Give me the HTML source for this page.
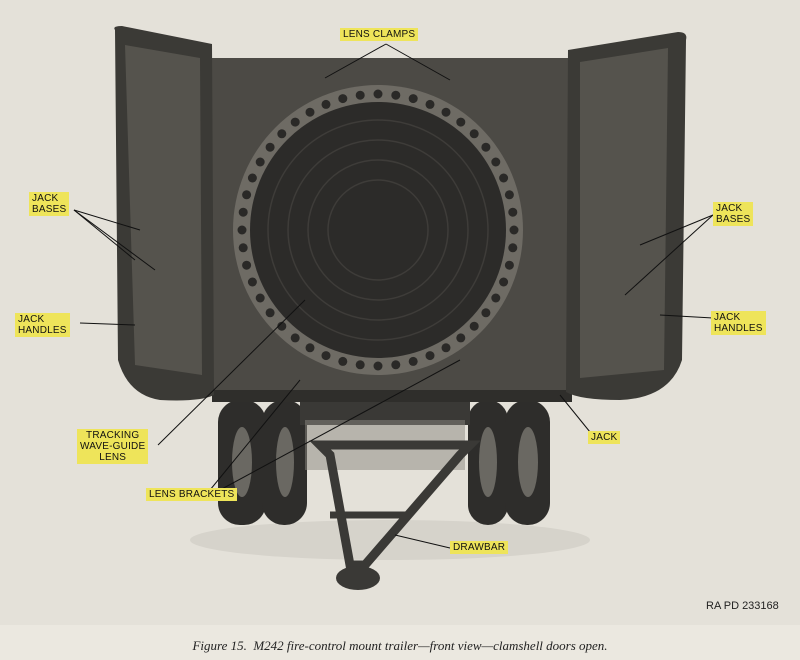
<!DOCTYPE html>
<html><head><meta charset="utf-8"><style>
html,body{margin:0;padding:0;background:#ebe8e0;}
body{width:800px;height:660px;overflow:hidden;position:relative;}
svg{position:absolute;left:0;top:0;}
.lab{position:absolute;background:#eee45a;font-family:"Liberation Sans",sans-serif;font-size:10px;line-height:11px;color:#111;padding:1px 3px;letter-spacing:0.2px;}
.cap{position:absolute;left:0;width:800px;top:638px;text-align:center;font-family:"Liberation Serif",serif;font-style:italic;font-size:13px;color:#222;}
.ra{position:absolute;left:706px;top:600px;font-family:"Liberation Sans",sans-serif;font-size:11px;color:#222;}
</style></head><body>
<svg width="800" height="660" viewBox="0 0 800 660">
<rect x="0" y="0" width="800" height="625" fill="#e4e1d9"/>
<!-- ground shadow -->
<ellipse cx="390" cy="540" rx="200" ry="20" fill="#d6d3cb"/>
<!-- wheels back -->
<g fill="#2e2d2b">
<rect x="218" y="400" width="48" height="125" rx="22"/>
<rect x="262" y="400" width="45" height="125" rx="22"/>
<rect x="468" y="400" width="40" height="125" rx="20"/>
<rect x="505" y="400" width="45" height="125" rx="22"/>
</g>
<g fill="#6a6862">
<ellipse cx="242" cy="462" rx="10" ry="35"/><ellipse cx="285" cy="462" rx="9" ry="35"/>
<ellipse cx="488" cy="462" rx="9" ry="35"/><ellipse cx="528" cy="462" rx="10" ry="35"/>
</g>
<!-- axle/chassis -->
<rect x="300" y="395" width="170" height="30" fill="#3a3936"/>
<rect x="305" y="420" width="160" height="50" fill="#8a8780" opacity="0.5"/>
<!-- drawbar -->
<path d="M320 445 L470 445 L460 455 L365 565 L350 565 L330 455 Z" fill="none" stroke="#3a3936" stroke-width="9"/>
<line x1="330" y1="515" x2="410" y2="515" stroke="#3a3936" stroke-width="7"/>
<ellipse cx="358" cy="578" rx="22" ry="12" fill="#3a3936"/>
<!-- body -->
<rect x="212" y="58" width="360" height="340" fill="#4c4a45"/>
<rect x="212" y="390" width="360" height="12" fill="#2f2e2b"/>
<!-- left door -->
<path d="M115 30 Q112 26 122 26 L212 44 L214 395 Q200 402 160 400 Q128 395 118 360 Z" fill="#3b3a36"/>
<path d="M125 45 L200 58 L202 375 L135 365 Z" fill="#55534d"/>
<!-- right door -->
<path d="M568 50 L678 32 Q688 32 686 40 L682 360 Q670 398 620 400 Q580 400 566 392 Z" fill="#3b3a36"/>
<path d="M580 62 L668 48 L664 370 L580 378 Z" fill="#55534d"/>
<!-- lens -->
<circle cx="378" cy="230" r="145" fill="#6e6b64"/>
<circle cx="378" cy="230" r="128" fill="#2c2b29"/>
<g fill="none" stroke="#3e3c39" stroke-width="1.5">
<circle cx="378" cy="230" r="110"/><circle cx="378" cy="230" r="90"/><circle cx="378" cy="230" r="70"/><circle cx="378" cy="230" r="50"/>
</g>
<g fill="#2a2927" id="holes"></g>
<!-- leader lines -->
<g stroke="#111" stroke-width="1" fill="none">
<line x1="386" y1="44" x2="325" y2="78"/><line x1="386" y1="44" x2="450" y2="80"/>
<line x1="74" y1="210" x2="140" y2="230"/><line x1="74" y1="210" x2="155" y2="270"/><line x1="74" y1="210" x2="135" y2="260"/>
<line x1="80" y1="323" x2="135" y2="325"/>
<line x1="158" y1="445" x2="305" y2="300"/>
<line x1="210" y1="490" x2="300" y2="380"/><line x1="220" y1="490" x2="460" y2="360"/>
<line x1="713" y1="215" x2="640" y2="245"/><line x1="713" y1="215" x2="625" y2="295"/>
<line x1="713" y1="318" x2="660" y2="315"/>
<line x1="590" y1="432" x2="560" y2="395"/>
<line x1="450" y1="548" x2="395" y2="535"/>
</g>
</svg>
<script>
var g=document.getElementById('holes'),s='';
for(var i=0;i<48;i++){var a=i/48*2*Math.PI;s+='<circle cx="'+(378+136*Math.cos(a)).toFixed(1)+'" cy="'+(230+136*Math.sin(a)).toFixed(1)+'" r="4.5"/>';}
g.innerHTML=s;
</script>
<div class="lab" style="left:340px;top:28px;">LENS CLAMPS</div>
<div class="lab" style="left:29px;top:192px;">JACK<br>BASES</div>
<div class="lab" style="left:15px;top:313px;">JACK<br>HANDLES</div>
<div class="lab" style="left:77px;top:429px;text-align:center;">TRACKING<br>WAVE-GUIDE<br>LENS</div>
<div class="lab" style="left:146px;top:488px;">LENS BRACKETS</div>
<div class="lab" style="left:713px;top:202px;">JACK<br>BASES</div>
<div class="lab" style="left:711px;top:311px;">JACK<br>HANDLES</div>
<div class="lab" style="left:588px;top:431px;">JACK</div>
<div class="lab" style="left:450px;top:541px;">DRAWBAR</div>
<div class="ra">RA PD 233168</div>
<div class="cap">Figure 15.&nbsp; M242 fire-control mount trailer—front view—clamshell doors open.</div>
</body></html>
